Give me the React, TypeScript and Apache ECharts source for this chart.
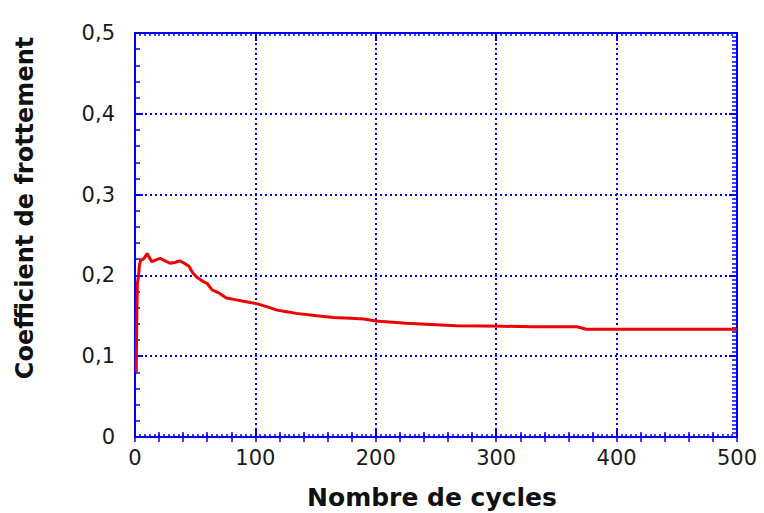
import React, { useEffect, useRef } from "react";
import * as echarts from "echarts";

// Nombre de cycles
const cycles = [
  1, 1.5, 2, 3, 3.5, 4, 5, 6, 8, 10, 12, 14, 17, 21, 25, 29, 33, 37, 41, 45,
  48, 52, 56, 60, 64, 70, 76, 83, 90, 101, 110, 118, 126, 134, 151, 165, 179,
  190, 200, 225, 250, 267, 289, 306, 330, 367, 375, 440, 500,
];
// Coefficient de frottement
const friction = [
  0.08, 0.15, 0.19, 0.2, 0.21, 0.215, 0.22, 0.219, 0.222, 0.227, 0.222, 0.217,
  0.219, 0.221, 0.218, 0.215, 0.216, 0.218, 0.215, 0.211, 0.203, 0.197, 0.193,
  0.19, 0.182, 0.178, 0.172, 0.17, 0.168, 0.165, 0.161, 0.157, 0.155, 0.153,
  0.15, 0.148, 0.147, 0.146, 0.1436, 0.1407, 0.139, 0.1378, 0.1375, 0.137,
  0.1365, 0.1365, 0.1333, 0.1333, 0.1333,
];

const xTickValues = [0, 100, 200, 300, 400, 500];
const xTickLabels = ["0", "100", "200", "300", "400", "500"];
const yTickValues = [0, 0.1, 0.2, 0.3, 0.4, 0.5];
const yTickLabels = ["0", "0,1", "0,2", "0,3", "0,4", "0,5"];

const xTitle = "Nombre de cycles";
const yTitle = "Coefficient de frottement";

const BLUE = "#0000ff";
const RED = "#ee0000";

function labelFor(values: number[], labels: string[], v: number) {
  const i = values.findIndex((t) => Math.abs(t - v) < 1e-9);
  return i >= 0 ? labels[i] : "";
}

export default function App() {
  const ref = useRef<HTMLDivElement>(null);

  useEffect(() => {
    if (!ref.current) return;
    const chart = echarts.init(ref.current, null, { renderer: "svg" });

    const tickLabelStyle = {
      fontFamily: "DejaVu Sans",
      fontSize: 21,
      color: "#1a1a1a",
    };

    const baseX = {
      type: "value" as const,
      min: 0,
      max: 500,
      interval: 100,
      axisLine: { show: true, onZero: false, lineStyle: { color: BLUE, width: 2 } },
      axisTick: { show: true, inside: true, length: 8, lineStyle: { color: BLUE, width: 2 } },
      minorTick: { show: true, splitNumber: 25, length: 3, lineStyle: { color: BLUE, width: 1.5 } },
      splitLine: { show: false },
      axisLabel: { show: false },
    };
    const baseY = {
      type: "value" as const,
      min: 0,
      max: 0.5,
      interval: 0.1,
      axisLine: { show: true, onZero: false, lineStyle: { color: BLUE, width: 2 } },
      axisTick: { show: true, inside: true, length: 8, lineStyle: { color: BLUE, width: 2 } },
      minorTick: { show: true, splitNumber: 5, length: 5, lineStyle: { color: BLUE, width: 1.5 } },
      splitLine: { show: false },
      axisLabel: { show: false },
    };

    chart.setOption({
      animation: false,
      backgroundColor: "#ffffff",
      grid: { left: 135, top: 33, right: 27, bottom: 76, containLabel: false },
      xAxis: [
        {
          ...baseX,
          position: "bottom",
          splitLine: {
            show: true,
            lineStyle: { color: BLUE, width: 2, type: [2, 3] },
          },
          axisLabel: {
            show: true,
            margin: 10,
            ...tickLabelStyle,
            formatter: (v: number) => labelFor(xTickValues, xTickLabels, v),
          },
        },
        { ...baseX, position: "top" },
        {
          ...baseX,
          position: "bottom",
          interval: 20,
          axisLine: { show: false },
          axisTick: { show: true, inside: true, length: 5, lineStyle: { color: BLUE, width: 1.5 } },
          minorTick: { show: false },
        },
        {
          ...baseX,
          position: "top",
          interval: 20,
          axisLine: { show: false },
          axisTick: { show: true, inside: true, length: 5, lineStyle: { color: BLUE, width: 1.5 } },
          minorTick: { show: false },
        },
      ],
      yAxis: [
        {
          ...baseY,
          position: "left",
          splitLine: {
            show: true,
            lineStyle: { color: BLUE, width: 2, type: [2, 3] },
          },
          axisLabel: {
            show: true,
            margin: 20,
            ...tickLabelStyle,
            formatter: (v: number) => labelFor(yTickValues, yTickLabels, v),
          },
        },
        {
          ...baseY,
          position: "right",
          minorTick: { show: true, splitNumber: 20, length: 5, lineStyle: { color: BLUE, width: 1.5 } },
        },
      ],
      graphic: [
        {
          type: "text",
          x: 432,
          y: 497,
          style: {
            text: xTitle,
            fontFamily: "DejaVu Sans",
            fontWeight: "bold",
            fontSize: 25,
            fill: "#111",
            align: "center",
            verticalAlign: "middle",
          },
        },
        {
          type: "text",
          x: 25,
          y: 208,
          rotation: Math.PI / 2,
          style: {
            text: yTitle,
            fontFamily: "DejaVu Sans",
            fontWeight: "bold",
            fontSize: 24,
            fill: "#111",
            align: "center",
            verticalAlign: "middle",
          },
        },
      ],
      series: [
        {
          type: "line",
          xAxisIndex: 0,
          yAxisIndex: 0,
          data: cycles.map((c, i) => [c, friction[i]]),
          showSymbol: false,
          symbol: "none",
          lineStyle: { color: RED, width: 3 },
          z: 5,
        },
      ],
    });

    return () => chart.dispose();
  }, []);

  return (
    <div
      ref={ref}
      style={{ width: 764, height: 513, position: "absolute", left: 0, top: 0 }}
    />
  );
}
